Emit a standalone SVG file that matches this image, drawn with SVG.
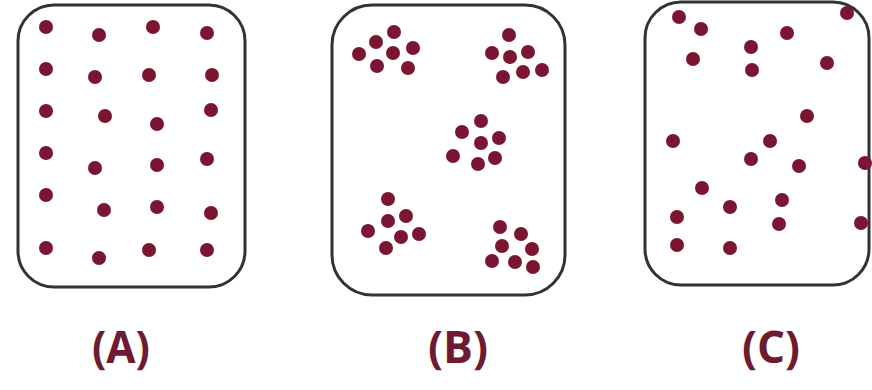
<svg xmlns="http://www.w3.org/2000/svg" width="872" height="390" viewBox="0 0 872 390">
<style>
.box{fill:#fff;stroke:#333;stroke-width:3}
.d{fill:#7a1532}
.lbl{font-family:"Open Sans","Liberation Sans",sans-serif;font-weight:bold;font-size:44px;fill:#6e1a30;text-anchor:middle}
</style>
<defs><circle id="p" r="7" class="d"/></defs>
<rect width="872" height="390" fill="#fff"/>
<g id="panelA">
<rect class="box" x="18" y="5" width="227" height="282" rx="36"/>
<use href="#p" x="46" y="27"/><use href="#p" x="99" y="35"/><use href="#p" x="153" y="27"/><use href="#p" x="207" y="33"/>
<use href="#p" x="46" y="69"/><use href="#p" x="95" y="77"/><use href="#p" x="149" y="75"/><use href="#p" x="212" y="75"/>
<use href="#p" x="46" y="111"/><use href="#p" x="105" y="116"/><use href="#p" x="157" y="124"/><use href="#p" x="211" y="110"/>
<use href="#p" x="46" y="153"/><use href="#p" x="95" y="168"/><use href="#p" x="157" y="165"/><use href="#p" x="207" y="159"/>
<use href="#p" x="46" y="195"/><use href="#p" x="104" y="210"/><use href="#p" x="157" y="207"/><use href="#p" x="211" y="213"/>
<use href="#p" x="46" y="248"/><use href="#p" x="99" y="258"/><use href="#p" x="149" y="250"/><use href="#p" x="207" y="250"/>
<text class="lbl" x="121" y="363" textLength="58" lengthAdjust="spacingAndGlyphs">(A)</text>
</g>
<g id="panelB">
<rect class="box" x="332" y="5" width="233" height="290" rx="40"/>
<use href="#p" x="394" y="32"/><use href="#p" x="376" y="42"/><use href="#p" x="359" y="54"/><use href="#p" x="393" y="53"/><use href="#p" x="413" y="48"/><use href="#p" x="377" y="66"/><use href="#p" x="408" y="68"/>
<use href="#p" x="509" y="35"/><use href="#p" x="492" y="53"/><use href="#p" x="510" y="57"/><use href="#p" x="528" y="52"/><use href="#p" x="503" y="77"/><use href="#p" x="523" y="72"/><use href="#p" x="542" y="70"/>
<use href="#p" x="481" y="121"/><use href="#p" x="462" y="132"/><use href="#p" x="481" y="143"/><use href="#p" x="499" y="138"/><use href="#p" x="453" y="156"/><use href="#p" x="478" y="164"/><use href="#p" x="495" y="158"/>
<use href="#p" x="388" y="199"/><use href="#p" x="388" y="221"/><use href="#p" x="406" y="216"/><use href="#p" x="368" y="231"/><use href="#p" x="401" y="237"/><use href="#p" x="419" y="234"/><use href="#p" x="386" y="248"/>
<use href="#p" x="500" y="227"/><use href="#p" x="521" y="234"/><use href="#p" x="502" y="246"/><use href="#p" x="532" y="249"/><use href="#p" x="492" y="261"/><use href="#p" x="515" y="262"/><use href="#p" x="533" y="267"/>
<text class="lbl" x="458" y="363" textLength="60" lengthAdjust="spacingAndGlyphs">(B)</text>
</g>
<g id="panelC">
<rect class="box" x="645" y="2" width="224" height="283" rx="36"/>
<use href="#p" x="679" y="17"/><use href="#p" x="701" y="29"/><use href="#p" x="693" y="59"/><use href="#p" x="751" y="47"/><use href="#p" x="752" y="70"/><use href="#p" x="787" y="33"/><use href="#p" x="847" y="13"/><use href="#p" x="827" y="63"/>
<use href="#p" x="807" y="116"/><use href="#p" x="673" y="141"/><use href="#p" x="770" y="141"/><use href="#p" x="751" y="159"/><use href="#p" x="799" y="166"/><use href="#p" x="865" y="163"/>
<use href="#p" x="702" y="188"/><use href="#p" x="782" y="200"/><use href="#p" x="730" y="207"/><use href="#p" x="677" y="217"/><use href="#p" x="779" y="224"/><use href="#p" x="861" y="223"/><use href="#p" x="677" y="245"/><use href="#p" x="730" y="248"/>
<text class="lbl" x="771" y="363" textLength="58" lengthAdjust="spacingAndGlyphs">(C)</text>
</g>
<g id="connectors"/>
</svg>
